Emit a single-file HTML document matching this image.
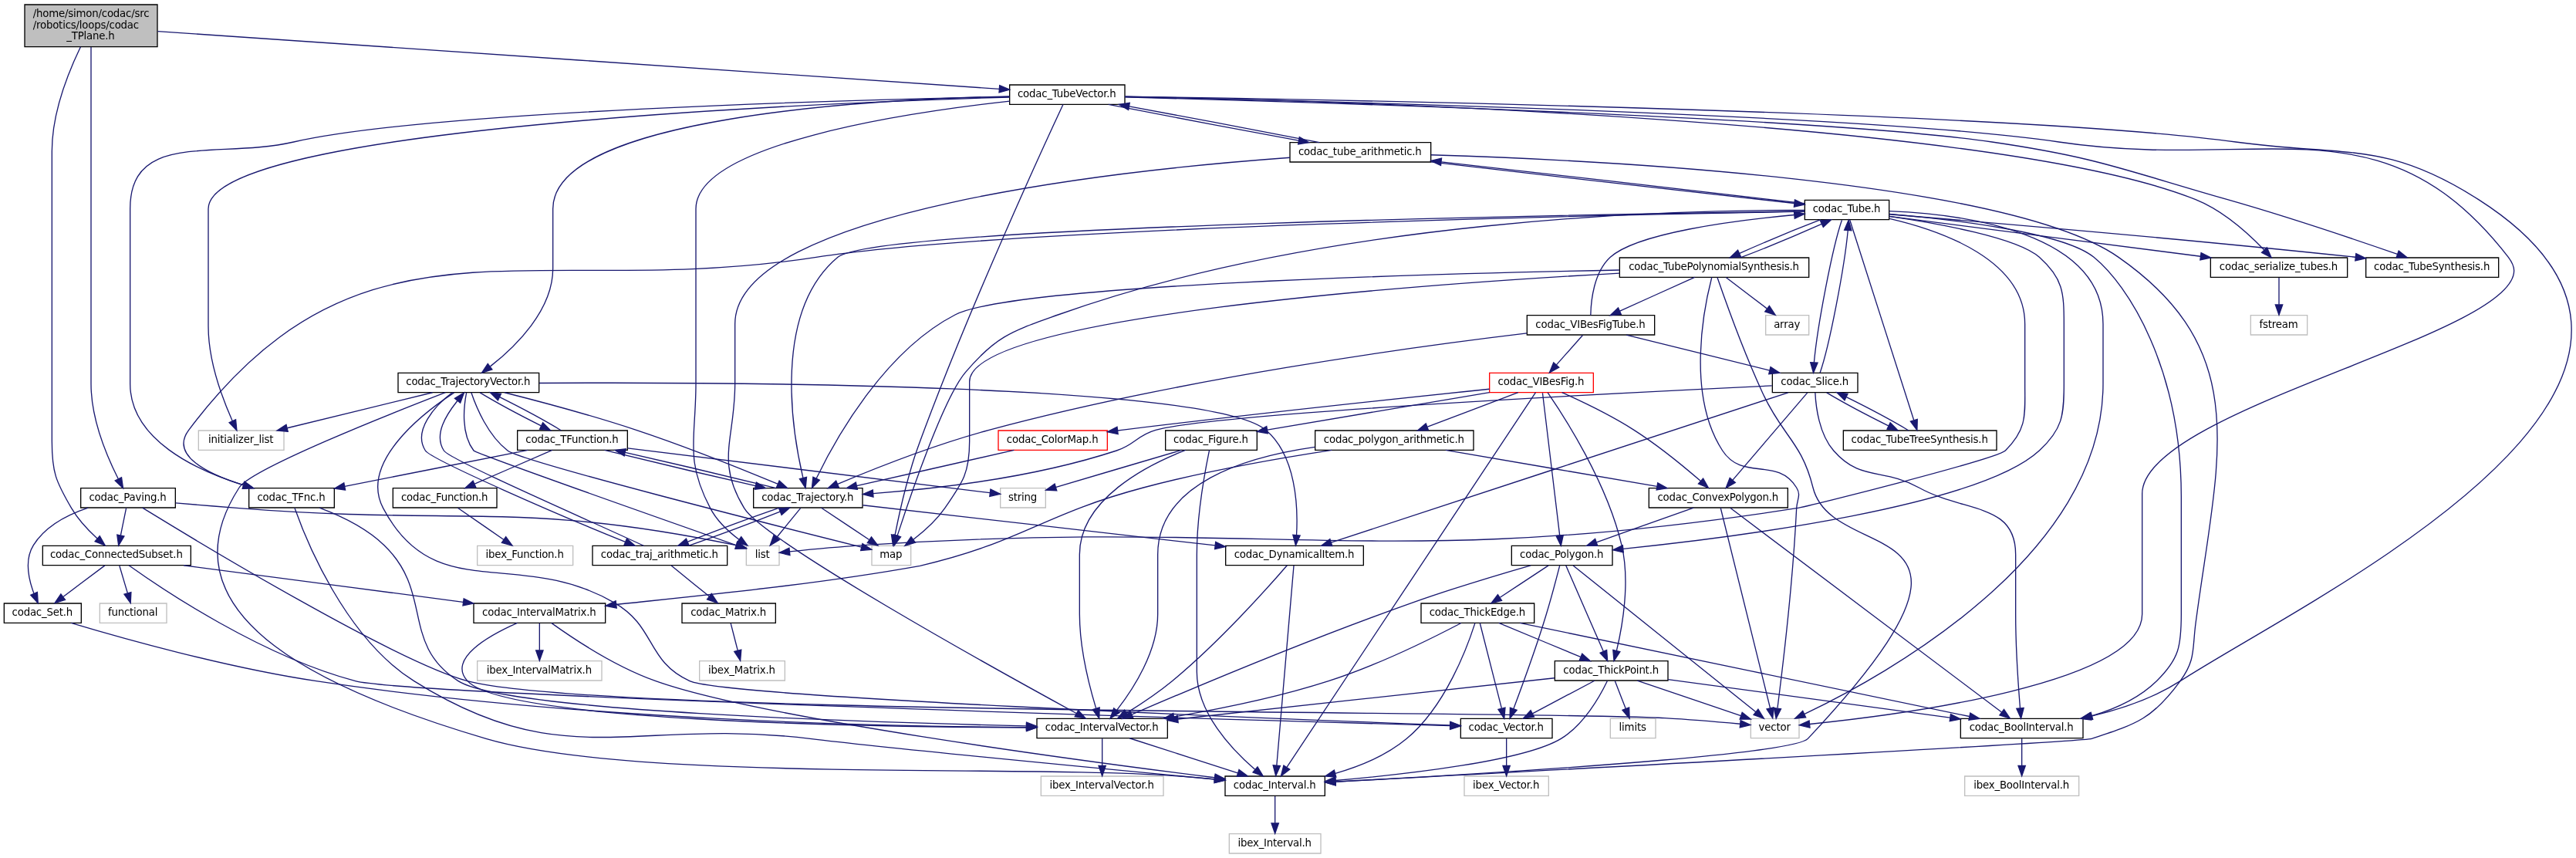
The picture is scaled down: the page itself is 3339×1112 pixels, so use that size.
<!DOCTYPE html>
<html><head><meta charset="utf-8"><title>codac_TPlane.h include graph</title>
<style>
html,body{margin:0;padding:0;background:#fff;}
body{width:3339px;height:1112px;overflow:hidden;}
svg{display:block;will-change:transform;}
svg text{font-family:"DejaVu Sans","Liberation Sans",sans-serif;font-size:10px;letter-spacing:-0.15px;}
</style></head><body>
<svg width="3339" height="1112" viewBox="0 0 2504.25 834.00">
<g id="graph0" class="graph" transform="scale(1 1) rotate(0) translate(4 830)">
<polygon fill="white" stroke="none" points="-4,4 -4,-830 2500.48,-830 2500.48,4 -4,4"/>
<g id="node1" class="node">
<polygon fill="#bfbfbf" stroke="black" points="20,-784.5 20,-825.5 149,-825.5 149,-784.5 20,-784.5"/>
<text text-anchor="start" x="28" y="-813.5" >/home/simon/codac/src</text>
<text text-anchor="start" x="28" y="-802.5" >/robotics/loops/codac</text>
<text text-anchor="middle" x="84.1" y="-791.5" >_TPlane.h</text>
</g>
<g id="node2" class="node">
<polygon fill="white" stroke="black" points="74.5,-336.5 74.5,-355.5 166.5,-355.5 166.5,-336.5 74.5,-336.5"/>
<text text-anchor="middle" x="120.1" y="-343.5" >codac_Paving.h</text>
</g>
<g id="edge1" class="edge">
<path fill="none" stroke="midnightblue" d="M84.5,-784.3C84.5,-760.35 84.5,-718.71 84.5,-683 84.5,-683 84.5,-683 84.5,-457 84.5,-422.98 100.24,-385.85 110.91,-364.6"/>
<polygon fill="midnightblue" stroke="midnightblue" points="114.12,-366.01 115.64,-355.53 107.91,-362.77 114.12,-366.01"/>
</g>
<g id="node5" class="node">
<polygon fill="white" stroke="black" points="37.5,-280.5 37.5,-299.5 181.5,-299.5 181.5,-280.5 37.5,-280.5"/>
<text text-anchor="middle" x="109.1" y="-287.5" >codac_ConnectedSubset.h</text>
</g>
<g id="edge18" class="edge">
<path fill="none" stroke="midnightblue" d="M74.32,-784.47C63.06,-761.02 46.5,-720.21 46.5,-683 46.5,-683 46.5,-683 46.5,-401 46.5,-370.9 50.3,-361.98 65.5,-336 72,-324.88 81.85,-314.46 90.58,-306.45"/>
<polygon fill="midnightblue" stroke="midnightblue" points="92.93,-309.04 98.16,-299.82 88.33,-303.77 92.93,-309.04"/>
</g>
<g id="node16" class="node">
<polygon fill="white" stroke="black" points="977.5,-728.5 977.5,-747.5 1089.5,-747.5 1089.5,-728.5 977.5,-728.5"/>
<text text-anchor="middle" x="1033.1" y="-735.5" >codac_TubeVector.h</text>
</g>
<g id="edge19" class="edge">
<path fill="none" stroke="midnightblue" d="M149.36,-799.56C322.29,-787.71 793.12,-755.46 967.44,-743.52"/>
<polygon fill="midnightblue" stroke="midnightblue" points="967.76,-747.01 977.5,-742.84 967.28,-740.03 967.76,-747.01"/>
</g>
<g id="node3" class="node">
<polygon fill="white" stroke="#bfbfbf" points="721.5,-280.5 721.5,-299.5 753.5,-299.5 753.5,-280.5 721.5,-280.5"/>
<text text-anchor="middle" x="737.1" y="-287.5" >list</text>
</g>
<g id="edge2" class="edge">
<path fill="none" stroke="midnightblue" d="M166.74,-341.06C185.86,-339.45 208.24,-337.6 228.5,-336 443.09,-319.06 500.69,-343.57 711.5,-300 711.6,-299.98 711.7,-299.96 711.81,-299.94"/>
<polygon fill="midnightblue" stroke="midnightblue" points="712.74,-303.31 721.45,-297.28 710.88,-296.56 712.74,-303.31"/>
</g>
<g id="node4" class="node">
<polygon fill="white" stroke="#bfbfbf" points="1698,-112.5 1698,-131.5 1745,-131.5 1745,-112.5 1698,-112.5"/>
<text text-anchor="middle" x="1721.1" y="-119.5" >vector</text>
</g>
<g id="edge3" class="edge">
<path fill="none" stroke="midnightblue" d="M134.51,-336.36C188.24,-303.39 381.58,-186.45 450.5,-168 575.49,-134.53 1485.32,-139.43 1614.5,-132 1639.02,-130.59 1666.64,-128.25 1687.68,-126.31"/>
<polygon fill="midnightblue" stroke="midnightblue" points="1688.1,-129.78 1697.73,-125.36 1687.44,-122.81 1688.1,-129.78"/>
</g>
<g id="edge4" class="edge">
<path fill="none" stroke="midnightblue" d="M118.68,-336.08C117.23,-328.93 115.13,-318.64 113.31,-309.69"/>
<polygon fill="midnightblue" stroke="midnightblue" points="116.71,-308.85 111.28,-299.75 109.85,-310.25 116.71,-308.85"/>
</g>
<g id="node7" class="node">
<polygon fill="white" stroke="black" points="0,-224.5 0,-243.5 75,-243.5 75,-224.5 0,-224.5"/>
<text text-anchor="middle" x="37.1" y="-231.5" >codac_Set.h</text>
</g>
<g id="edge17" class="edge">
<path fill="none" stroke="midnightblue" d="M81.65,-336.36C62.12,-329.85 40.17,-318.7 28.5,-300 19.75,-285.98 23.8,-266.99 28.96,-253.15"/>
<polygon fill="midnightblue" stroke="midnightblue" points="32.27,-254.32 32.93,-243.74 25.82,-251.6 32.27,-254.32"/>
</g>
<g id="node6" class="node">
<polygon fill="white" stroke="#bfbfbf" points="93,-224.5 93,-243.5 158,-243.5 158,-224.5 93,-224.5"/>
<text text-anchor="middle" x="125.1" y="-231.5" >functional</text>
</g>
<g id="edge5" class="edge">
<path fill="none" stroke="midnightblue" d="M112.14,-280.08C114.29,-272.85 117.38,-262.41 120.05,-253.4"/>
<polygon fill="midnightblue" stroke="midnightblue" points="123.42,-254.33 122.91,-243.75 116.71,-252.34 123.42,-254.33"/>
</g>
<g id="edge6" class="edge">
<path fill="none" stroke="midnightblue" d="M97.93,-280.32C87.08,-272.18 70.62,-259.84 57.62,-250.09"/>
<polygon fill="midnightblue" stroke="midnightblue" points="59.38,-247.03 49.28,-243.83 55.18,-252.63 59.38,-247.03"/>
</g>
<g id="node12" class="node">
<polygon fill="white" stroke="black" points="1416,-112.5 1416,-131.5 1505,-131.5 1505,-112.5 1416,-112.5"/>
<text text-anchor="middle" x="1460.1" y="-119.5" >codac_Vector.h</text>
</g>
<g id="edge11" class="edge">
<path fill="none" stroke="midnightblue" d="M121.28,-280.4C154.11,-257 250.2,-192.33 341.5,-168 393.34,-154.18 1187.9,-130.73 1405.67,-124.54"/>
<polygon fill="midnightblue" stroke="midnightblue" points="1406,-128.03 1415.9,-124.25 1405.81,-121.03 1406,-128.03"/>
</g>
<g id="node14" class="node">
<polygon fill="white" stroke="black" points="456.5,-224.5 456.5,-243.5 584.5,-243.5 584.5,-224.5 456.5,-224.5"/>
<text text-anchor="middle" x="520.1" y="-231.5" >codac_IntervalMatrix.h</text>
</g>
<g id="edge13" class="edge">
<path fill="none" stroke="midnightblue" d="M174.62,-280.44C248.49,-270.74 368.72,-254.94 446.19,-244.76"/>
<polygon fill="midnightblue" stroke="midnightblue" points="446.9,-248.2 456.36,-243.43 445.99,-241.26 446.9,-248.2"/>
</g>
<g id="node8" class="node">
<polygon fill="white" stroke="black" points="1004,-112.5 1004,-131.5 1131,-131.5 1131,-112.5 1004,-112.5"/>
<text text-anchor="middle" x="1067.1" y="-119.5" >codac_IntervalVector.h</text>
</g>
<g id="edge7" class="edge">
<path fill="none" stroke="midnightblue" d="M65.13,-224.49C113.09,-210.11 215.12,-181.29 303.5,-168 554.65,-130.24 856.68,-123.78 993.6,-122.93"/>
<polygon fill="midnightblue" stroke="midnightblue" points="993.98,-126.43 1003.96,-122.87 993.94,-119.43 993.98,-126.43"/>
</g>
<g id="node9" class="node">
<polygon fill="white" stroke="#bfbfbf" points="1008,-56.5 1008,-75.5 1127,-75.5 1127,-56.5 1008,-56.5"/>
<text text-anchor="middle" x="1067.1" y="-63.5" >ibex_IntervalVector.h</text>
</g>
<g id="edge8" class="edge">
<path fill="none" stroke="midnightblue" d="M1067.5,-112.08C1067.5,-105.01 1067.5,-94.86 1067.5,-85.99"/>
<polygon fill="midnightblue" stroke="midnightblue" points="1071,-85.75 1067.5,-75.75 1064,-85.75 1071,-85.75"/>
</g>
<g id="node10" class="node">
<polygon fill="white" stroke="black" points="1187,-56.5 1187,-75.5 1284,-75.5 1284,-56.5 1187,-56.5"/>
<text text-anchor="middle" x="1235.1" y="-63.5" >codac_Interval.h</text>
</g>
<g id="edge9" class="edge">
<path fill="none" stroke="midnightblue" d="M1094.12,-112.44C1122.51,-103.32 1167.64,-88.81 1199.25,-78.65"/>
<polygon fill="midnightblue" stroke="midnightblue" points="1200.56,-81.91 1209,-75.52 1198.41,-75.24 1200.56,-81.91"/>
</g>
<g id="node11" class="node">
<polygon fill="white" stroke="#bfbfbf" points="1191,-0.5 1191,-19.5 1280,-19.5 1280,-0.5 1191,-0.5"/>
<text text-anchor="middle" x="1235.1" y="-7.5" >ibex_Interval.h</text>
</g>
<g id="edge10" class="edge">
<path fill="none" stroke="midnightblue" d="M1235.5,-56.08C1235.5,-49.01 1235.5,-38.86 1235.5,-29.99"/>
<polygon fill="midnightblue" stroke="midnightblue" points="1239,-29.75 1235.5,-19.75 1232,-29.75 1239,-29.75"/>
</g>
<g id="node13" class="node">
<polygon fill="white" stroke="#bfbfbf" points="1419.5,-56.5 1419.5,-75.5 1501.5,-75.5 1501.5,-56.5 1419.5,-56.5"/>
<text text-anchor="middle" x="1460.1" y="-63.5" >ibex_Vector.h</text>
</g>
<g id="edge12" class="edge">
<path fill="none" stroke="midnightblue" d="M1460.5,-112.08C1460.5,-105.01 1460.5,-94.86 1460.5,-85.99"/>
<polygon fill="midnightblue" stroke="midnightblue" points="1464,-85.75 1460.5,-75.75 1457,-85.75 1464,-85.75"/>
</g>
<g id="edge16" class="edge">
<path fill="none" stroke="midnightblue" d="M498.91,-224.39C471.63,-212.34 430.51,-189.5 450.5,-168 486.78,-128.98 837.55,-123.41 993.45,-122.88"/>
<polygon fill="midnightblue" stroke="midnightblue" points="993.89,-126.38 1003.89,-122.85 993.88,-119.38 993.89,-126.38"/>
</g>
<g id="edge15" class="edge">
<path fill="none" stroke="midnightblue" d="M532.02,-224.49C551.73,-210.38 593.66,-182.28 633.5,-168 733.42,-132.19 1045.59,-90.58 1176.64,-74.17"/>
<polygon fill="midnightblue" stroke="midnightblue" points="1177.39,-77.61 1186.88,-72.9 1176.53,-70.66 1177.39,-77.61"/>
</g>
<g id="node15" class="node">
<polygon fill="white" stroke="#bfbfbf" points="460,-168.5 460,-187.5 581,-187.5 581,-168.5 460,-168.5"/>
<text text-anchor="middle" x="520.1" y="-175.5" >ibex_IntervalMatrix.h</text>
</g>
<g id="edge14" class="edge">
<path fill="none" stroke="midnightblue" d="M520.5,-224.08C520.5,-217.01 520.5,-206.86 520.5,-197.99"/>
<polygon fill="midnightblue" stroke="midnightblue" points="524,-197.75 520.5,-187.75 517,-197.75 524,-197.75"/>
</g>
<g id="edge52" class="edge">
<path fill="none" stroke="midnightblue" d="M977.49,-731.65C876.09,-720.4 672.5,-689.98 672.5,-627 672.5,-627 672.5,-627 672.5,-457 672.5,-402.86 661.43,-383.98 686.5,-336 692.91,-323.74 704.14,-313.27 714.43,-305.53"/>
<polygon fill="midnightblue" stroke="midnightblue" points="716.57,-308.3 722.73,-299.68 712.54,-302.58 716.57,-308.3"/>
</g>
<g id="edge20" class="edge">
<path fill="none" stroke="midnightblue" d="M1089.76,-735.88C1268.28,-732.1 1820.62,-718.51 1997.5,-692 2195.78,-662.28 2311.58,-738.4 2434.5,-580 2436.9,-576.8 2440,-572 2440,-567 2440,-503.6 2078.5,-431.4 2078.5,-350 2078.5,-350 2078.5,-350 2078.5,-233 2078.5,-165.77 1844.36,-135.29 1755.31,-126.13"/>
<polygon fill="midnightblue" stroke="midnightblue" points="1755.5,-122.63 1745.2,-125.11 1754.8,-129.59 1755.5,-122.63"/>
</g>
<g id="node17" class="node">
<polygon fill="white" stroke="#bfbfbf" points="189,-392.5 189,-411.5 272,-411.5 272,-392.5 189,-392.5"/>
<text text-anchor="middle" x="230.1" y="-399.5" >initializer_list</text>
</g>
<g id="edge21" class="edge">
<path fill="none" stroke="midnightblue" d="M977.42,-735.53C790.2,-729.87 198.5,-705.77 198.5,-627 198.5,-627 198.5,-627 198.5,-513 198.5,-479.33 212.49,-442.08 221.97,-420.72"/>
<polygon fill="midnightblue" stroke="midnightblue" points="225.17,-422.14 226.18,-411.59 218.82,-419.21 225.17,-422.14"/>
</g>
<g id="node18" class="node">
<polygon fill="white" stroke="black" points="238,-336.5 238,-355.5 321,-355.5 321,-336.5 238,-336.5"/>
<text text-anchor="middle" x="279.1" y="-343.5" >codac_TFnc.h</text>
</g>
<g id="edge22" class="edge">
<path fill="none" stroke="midnightblue" d="M977.27,-736.02C826.18,-732.99 413.89,-722.15 281.5,-692 207.06,-675.05 122.5,-703.34 122.5,-627 122.5,-627 122.5,-627 122.5,-457 122.5,-402.74 186.18,-372.98 232.43,-358.52"/>
<polygon fill="midnightblue" stroke="midnightblue" points="233.71,-361.79 242.29,-355.58 231.71,-355.08 233.71,-361.79"/>
</g>
<g id="node19" class="node">
<polygon fill="white" stroke="black" points="383,-448.5 383,-467.5 520,-467.5 520,-448.5 383,-448.5"/>
<text text-anchor="middle" x="451.1" y="-455.5" >codac_TrajectoryVector.h</text>
</g>
<g id="edge25" class="edge">
<path fill="none" stroke="midnightblue" d="M977.12,-736.39C846.35,-733.44 533.5,-716.99 533.5,-627 533.5,-627 533.5,-627 533.5,-569 533.5,-528.27 496.91,-492.87 472.62,-473.86"/>
<polygon fill="midnightblue" stroke="midnightblue" points="474.41,-470.82 464.31,-467.61 470.2,-476.42 474.41,-470.82"/>
</g>
<g id="node23" class="node">
<polygon fill="white" stroke="#bfbfbf" points="843.5,-280.5 843.5,-299.5 881.5,-299.5 881.5,-280.5 843.5,-280.5"/>
<text text-anchor="middle" x="862.1" y="-287.5" >map</text>
</g>
<g id="edge53" class="edge">
<path fill="none" stroke="midnightblue" d="M1029.44,-728.33C1012.01,-690.98 942.29,-539.91 894.5,-412 885.35,-387.51 883.26,-381.25 876.5,-356 872.39,-340.65 868.65,-323.01 866.07,-309.98"/>
<polygon fill="midnightblue" stroke="midnightblue" points="869.46,-309.05 864.13,-299.9 862.59,-310.38 869.46,-309.05"/>
</g>
<g id="node30" class="node">
<polygon fill="white" stroke="black" points="1250,-672.5 1250,-691.5 1387,-691.5 1387,-672.5 1250,-672.5"/>
<text text-anchor="middle" x="1318.1" y="-679.5" >codac_tube_arithmetic.h</text>
</g>
<g id="edge54" class="edge">
<path fill="none" stroke="midnightblue" d="M1073.57,-728.44C1121.72,-718.92 1202.76,-703.55 1258.39,-693.36"/>
<polygon fill="midnightblue" stroke="midnightblue" points="1259.26,-696.76 1268.47,-691.52 1258.01,-689.87 1259.26,-696.76"/>
</g>
<g id="node37" class="node">
<polygon fill="white" stroke="black" points="1902,-112.5 1902,-131.5 2021,-131.5 2021,-112.5 1902,-112.5"/>
<text text-anchor="middle" x="1961.1" y="-119.5" >codac_BoolInterval.h</text>
</g>
<g id="edge127" class="edge">
<path fill="none" stroke="midnightblue" d="M1089.79,-736.21C1288.62,-733.2 1957.33,-721.1 2169.5,-692 2276.3,-677.35 2314.68,-694.07 2405.5,-636 2683.93,-457.97 2241.82,-249.81 2115.5,-168 2089.46,-151.14 2056.93,-140.43 2028.49,-133.71"/>
<polygon fill="midnightblue" stroke="midnightblue" points="2029.14,-130.27 2018.62,-131.5 2027.61,-137.1 2029.14,-130.27"/>
</g>
<g id="node41" class="node">
<polygon fill="white" stroke="black" points="2145,-560.5 2145,-579.5 2278,-579.5 2278,-560.5 2145,-560.5"/>
<text text-anchor="middle" x="2211.1" y="-567.5" >codac_serialize_tubes.h</text>
</g>
<g id="edge126" class="edge">
<path fill="none" stroke="midnightblue" d="M1089.74,-736.08C1285.92,-732.19 1938.43,-713.61 2130.5,-636 2157.26,-625.19 2182.23,-602.48 2197.18,-586.98"/>
<polygon fill="midnightblue" stroke="midnightblue" points="2199.77,-589.33 2204.04,-579.63 2194.66,-584.55 2199.77,-589.33"/>
</g>
<g id="node50" class="node">
<polygon fill="white" stroke="black" points="2296,-560.5 2296,-579.5 2425,-579.5 2425,-560.5 2296,-560.5"/>
<text text-anchor="middle" x="2360.1" y="-567.5" >codac_TubeSynthesis.h</text>
</g>
<g id="edge125" class="edge">
<path fill="none" stroke="midnightblue" d="M1089.52,-735.59C1259.63,-731.08 1768.59,-715.92 1932.5,-692 2036.18,-676.87 2060.74,-664.73 2161.5,-636 2220.02,-619.31 2287.11,-596.65 2326.53,-582.97"/>
<polygon fill="midnightblue" stroke="midnightblue" points="2327.88,-586.2 2336.18,-579.61 2325.58,-579.59 2327.88,-586.2"/>
</g>
<g id="edge24" class="edge">
<path fill="none" stroke="midnightblue" d="M306.53,-336.42C325.91,-329.19 351.65,-317.22 369.5,-300 417.59,-253.6 385.3,-204.15 441.5,-168 486.93,-138.77 837.66,-127.82 993.4,-124.37"/>
<polygon fill="midnightblue" stroke="midnightblue" points="993.9,-127.86 1003.82,-124.15 993.74,-120.86 993.9,-127.86"/>
</g>
<g id="edge23" class="edge">
<path fill="none" stroke="midnightblue" d="M282.49,-336.1C292.98,-306.43 331.12,-210.4 398.5,-168 544.85,-75.91 611.87,-133.01 783.5,-112 858.12,-102.86 1072.29,-82.38 1176.76,-72.51"/>
<polygon fill="midnightblue" stroke="midnightblue" points="1177.2,-75.99 1186.83,-71.56 1176.54,-69.02 1177.2,-75.99"/>
</g>
<g id="edge50" class="edge">
<path fill="none" stroke="midnightblue" d="M449.48,-448.4C446.83,-434.91 443.91,-408.59 456.5,-392 458.54,-389.32 642.47,-324.42 711.61,-300.1"/>
<polygon fill="midnightblue" stroke="midnightblue" points="713.04,-303.3 721.32,-296.69 710.72,-296.7 713.04,-303.3"/>
</g>
<g id="edge48" class="edge">
<path fill="none" stroke="midnightblue" d="M429.09,-448.45C374.88,-427.54 240.25,-374.22 228.5,-356 146.06,-228.16 322.59,-154.99 468.5,-112 610.89,-70.05 987.44,-86.65 1135.5,-76 1148.87,-75.04 1163.23,-73.84 1176.78,-72.64"/>
<polygon fill="midnightblue" stroke="midnightblue" points="1177.31,-76.11 1186.95,-71.72 1176.68,-69.13 1177.31,-76.11"/>
</g>
<g id="edge26" class="edge">
<path fill="none" stroke="midnightblue" d="M437.47,-448.34C408.11,-429.08 344.83,-380.83 368.5,-336 418.95,-240.46 500.07,-298.25 593.5,-244 634,-220.48 623.95,-187.57 666.5,-168 700.02,-152.59 1231.15,-131.54 1405.52,-125.01"/>
<polygon fill="midnightblue" stroke="midnightblue" points="1405.89,-128.5 1415.75,-124.63 1405.63,-121.51 1405.89,-128.5"/>
</g>
<g id="edge49" class="edge">
<path fill="none" stroke="midnightblue" d="M416.48,-448.44C378.25,-439.1 316.93,-424.12 275.24,-413.93"/>
<polygon fill="midnightblue" stroke="midnightblue" points="275.9,-410.49 265.35,-411.52 274.24,-417.29 275.9,-410.49"/>
</g>
<g id="node20" class="node">
<polygon fill="white" stroke="black" points="499,-392.5 499,-411.5 606,-411.5 606,-392.5 499,-392.5"/>
<text text-anchor="middle" x="552.1" y="-399.5" >codac_TFunction.h</text>
</g>
<g id="edge27" class="edge">
<path fill="none" stroke="midnightblue" d="M462.61,-448.32C477,-439.62 502,-426.12 522.09,-416.11"/>
<polygon fill="midnightblue" stroke="midnightblue" points="523.76,-419.19 531.2,-411.65 520.68,-412.91 523.76,-419.19"/>
</g>
<g id="node21" class="node">
<polygon fill="white" stroke="black" points="728.5,-336.5 728.5,-355.5 834.5,-355.5 834.5,-336.5 728.5,-336.5"/>
<text text-anchor="middle" x="781.1" y="-343.5" >codac_Trajectory.h</text>
</g>
<g id="edge45" class="edge">
<path fill="none" stroke="midnightblue" d="M486.47,-448.45C519.69,-440.06 570.89,-426.46 614.5,-412 663.34,-395.8 718.78,-373.4 751.9,-359.58"/>
<polygon fill="midnightblue" stroke="midnightblue" points="753.57,-362.67 761.43,-355.58 750.86,-356.22 753.57,-362.67"/>
</g>
<g id="node22" class="node">
<polygon fill="white" stroke="black" points="1187.5,-280.5 1187.5,-299.5 1321.5,-299.5 1321.5,-280.5 1187.5,-280.5"/>
<text text-anchor="middle" x="1254.1" y="-287.5" >codac_DynamicalItem.h</text>
</g>
<g id="edge46" class="edge">
<path fill="none" stroke="midnightblue" d="M520.28,-457.63C699.95,-458.63 1173.22,-456.94 1226.5,-412 1256.21,-386.94 1257.96,-337.18 1256.4,-309.93"/>
<polygon fill="midnightblue" stroke="midnightblue" points="1259.87,-309.46 1255.6,-299.77 1252.9,-310.01 1259.87,-309.46"/>
</g>
<g id="edge51" class="edge">
<path fill="none" stroke="midnightblue" d="M454.14,-448.39C458.88,-434.39 470.19,-406.77 489.5,-392 503.57,-381.24 748.28,-319.5 833.51,-298.21"/>
<polygon fill="midnightblue" stroke="midnightblue" points="834.46,-301.58 843.32,-295.77 832.77,-294.79 834.46,-301.58"/>
</g>
<g id="node24" class="node">
<polygon fill="white" stroke="black" points="572,-280.5 572,-299.5 703,-299.5 703,-280.5 572,-280.5"/>
<text text-anchor="middle" x="637.1" y="-287.5" >codac_traj_arithmetic.h</text>
</g>
<g id="edge47" class="edge">
<path fill="none" stroke="midnightblue" d="M435.66,-448.5C418.76,-435.8 397.15,-411.29 409.5,-392 415.06,-383.32 541.7,-328.21 603.92,-303.25"/>
<polygon fill="midnightblue" stroke="midnightblue" points="605.32,-306.46 613.32,-299.52 602.73,-299.96 605.32,-306.46"/>
</g>
<g id="edge44" class="edge">
<path fill="none" stroke="midnightblue" d="M509.24,-392.44C460.9,-382.88 382.66,-367.4 331.14,-357.21"/>
<polygon fill="midnightblue" stroke="midnightblue" points="331.7,-353.76 321.21,-355.25 330.34,-360.62 331.7,-353.76"/>
</g>
<g id="edge43" class="edge">
<path fill="none" stroke="midnightblue" d="M541.65,-411.52C527.27,-420.23 502,-433.88 481.76,-443.96"/>
<polygon fill="midnightblue" stroke="midnightblue" points="480.04,-440.91 472.59,-448.44 483.11,-447.2 480.04,-440.91"/>
</g>
<g id="edge28" class="edge">
<path fill="none" stroke="midnightblue" d="M583.7,-392.44C621.5,-383.04 685.45,-367.93 730.44,-357.74"/>
<polygon fill="midnightblue" stroke="midnightblue" points="731.32,-361.13 740.3,-355.52 729.78,-354.3 731.32,-361.13"/>
</g>
<g id="node27" class="node">
<polygon fill="white" stroke="#bfbfbf" points="968.5,-336.5 968.5,-355.5 1012.5,-355.5 1012.5,-336.5 968.5,-336.5"/>
<text text-anchor="middle" x="990.1" y="-343.5" >string</text>
</g>
<g id="edge40" class="edge">
<path fill="none" stroke="midnightblue" d="M606.21,-394.38C698.31,-383.02 883.65,-360.17 958.28,-350.97"/>
<polygon fill="midnightblue" stroke="midnightblue" points="958.96,-354.41 968.46,-349.72 958.11,-347.47 958.96,-354.41"/>
</g>
<g id="node28" class="node">
<polygon fill="white" stroke="black" points="378,-336.5 378,-355.5 479,-355.5 479,-336.5 378,-336.5"/>
<text text-anchor="middle" x="428.1" y="-343.5" >codac_Function.h</text>
</g>
<g id="edge41" class="edge">
<path fill="none" stroke="midnightblue" d="M532.85,-392.44C512.54,-383.6 480.6,-369.69 457.4,-359.59"/>
<polygon fill="midnightblue" stroke="midnightblue" points="458.62,-356.3 448.06,-355.52 455.83,-362.72 458.62,-356.3"/>
</g>
<g id="edge39" class="edge">
<path fill="none" stroke="midnightblue" d="M774.23,-336.08C767.96,-328.38 758.71,-317.03 751.07,-307.65"/>
<polygon fill="midnightblue" stroke="midnightblue" points="753.66,-305.29 744.63,-299.75 748.23,-309.71 753.66,-305.29"/>
</g>
<g id="edge29" class="edge">
<path fill="none" stroke="midnightblue" d="M750.46,-355.52C712.74,-364.9 648.79,-380.01 603.75,-390.22"/>
<polygon fill="midnightblue" stroke="midnightblue" points="602.86,-386.83 593.87,-392.44 604.4,-393.66 602.86,-386.83"/>
</g>
<g id="edge30" class="edge">
<path fill="none" stroke="midnightblue" d="M834.84,-338.91C918.49,-329.36 1080.93,-310.82 1177.33,-299.81"/>
<polygon fill="midnightblue" stroke="midnightblue" points="1177.77,-303.28 1187.31,-298.67 1176.98,-296.33 1177.77,-303.28"/>
</g>
<g id="edge33" class="edge">
<path fill="none" stroke="midnightblue" d="M794.51,-336.32C807.03,-327.98 826.18,-315.21 840.97,-305.35"/>
<polygon fill="midnightblue" stroke="midnightblue" points="843.14,-308.11 849.52,-299.65 839.26,-302.29 843.14,-308.11"/>
</g>
<g id="edge34" class="edge">
<path fill="none" stroke="midnightblue" d="M753.59,-336.44C727.83,-327.52 690.06,-313.44 664.57,-303.32"/>
<polygon fill="midnightblue" stroke="midnightblue" points="665.71,-300 655.13,-299.52 663.1,-306.5 665.71,-300"/>
</g>
<g id="edge31" class="edge">
<path fill="none" stroke="midnightblue" d="M1247.25,-280.48C1229.44,-259.83 1181.66,-206.03 1135.5,-168 1121.56,-156.52 1104.63,-145.3 1091.15,-136.94"/>
<polygon fill="midnightblue" stroke="midnightblue" points="1092.81,-133.86 1082.45,-131.64 1089.17,-139.83 1092.81,-133.86"/>
</g>
<g id="edge32" class="edge">
<path fill="none" stroke="midnightblue" d="M1253.76,-280.3C1250.96,-247.63 1241.05,-131.87 1237.12,-85.96"/>
<polygon fill="midnightblue" stroke="midnightblue" points="1240.6,-85.55 1236.26,-75.88 1233.63,-86.15 1240.6,-85.55"/>
</g>
<g id="edge36" class="edge">
<path fill="none" stroke="midnightblue" d="M621.73,-299.52C573.6,-322.18 433.35,-382.85 427.5,-392 417.43,-407.74 429.95,-426.95 440.63,-440.38"/>
<polygon fill="midnightblue" stroke="midnightblue" points="438.07,-442.78 447.13,-448.29 443.48,-438.34 438.07,-442.78"/>
</g>
<g id="edge35" class="edge">
<path fill="none" stroke="midnightblue" d="M665.29,-299.52C691.02,-308.43 728.79,-322.5 754.31,-332.64"/>
<polygon fill="midnightblue" stroke="midnightblue" points="753.19,-335.96 763.77,-336.44 755.8,-329.46 753.19,-335.96"/>
</g>
<g id="node25" class="node">
<polygon fill="white" stroke="black" points="659,-224.5 659,-243.5 750,-243.5 750,-224.5 659,-224.5"/>
<text text-anchor="middle" x="704.1" y="-231.5" >codac_Matrix.h</text>
</g>
<g id="edge37" class="edge">
<path fill="none" stroke="midnightblue" d="M648.59,-280.32C658.6,-272.2 673.5,-259.9 685.6,-250.2"/>
<polygon fill="midnightblue" stroke="midnightblue" points="683.45,-247.44 693.8,-243.8 687.75,-252.96 683.45,-247.44"/>
</g>
<g id="node26" class="node">
<polygon fill="white" stroke="#bfbfbf" points="676,-168.5 676,-187.5 759,-187.5 759,-168.5 676,-168.5"/>
<text text-anchor="middle" x="717.1" y="-175.5" >ibex_Matrix.h</text>
</g>
<g id="edge38" class="edge">
<path fill="none" stroke="midnightblue" d="M706.4,-224.08C708.2,-216.9 710.9,-206.6 713.2,-197.6"/>
<polygon fill="midnightblue" stroke="midnightblue" points="716.59,-198.47 715.72,-187.75 709.81,-196.73 716.59,-198.47"/>
</g>
<g id="node29" class="node">
<polygon fill="white" stroke="#bfbfbf" points="460,-280.5 460,-299.5 553,-299.5 553,-280.5 460,-280.5"/>
<text text-anchor="middle" x="506.1" y="-287.5" >ibex_Function.h</text>
</g>
<g id="edge42" class="edge">
<path fill="none" stroke="midnightblue" d="M441.03,-336.32C453.09,-327.98 471.53,-315.21 485.77,-305.35"/>
<polygon fill="midnightblue" stroke="midnightblue" points="487.77,-308.22 494,-299.65 483.78,-302.47 487.77,-308.22"/>
</g>
<g id="edge124" class="edge">
<path fill="none" stroke="midnightblue" d="M1249.94,-676.8C1090.93,-665.17 710.5,-625.79 710.5,-515 710.5,-515 710.5,-515 710.5,-457 710.5,-403.07 691.41,-382.03 719.5,-336 739.09,-303.89 965.76,-178.42 1042.38,-136.63"/>
<polygon fill="midnightblue" stroke="midnightblue" points="1044.25,-139.59 1051.36,-131.74 1040.9,-133.45 1044.25,-139.59"/>
</g>
<g id="edge55" class="edge">
<path fill="none" stroke="midnightblue" d="M1387.26,-679.42C1549.04,-674.49 1948.2,-654.87 2055.5,-580 2188.11,-487.48 2151.6,-384.31 2130.5,-224 2127.14,-198.45 2130.63,-188.86 2115.5,-168 2088.71,-131.08 2072.84,-126.21 2029.5,-112 2020.77,-109.14 1476.95,-79.89 1294.46,-70.14"/>
<polygon fill="midnightblue" stroke="midnightblue" points="1294.42,-66.63 1284.25,-69.6 1294.05,-73.62 1294.42,-66.63"/>
</g>
<g id="edge123" class="edge">
<path fill="none" stroke="midnightblue" d="M1278.63,-691.52C1230.57,-701.02 1149.55,-716.4 1093.84,-726.6"/>
<polygon fill="midnightblue" stroke="midnightblue" points="1092.96,-723.2 1083.75,-728.44 1094.21,-730.09 1092.96,-723.2"/>
</g>
<g id="node31" class="node">
<polygon fill="white" stroke="black" points="1750.5,-616.5 1750.5,-635.5 1832.5,-635.5 1832.5,-616.5 1750.5,-616.5"/>
<text text-anchor="middle" x="1791.1" y="-623.5" >codac_Tube.h</text>
</g>
<g id="edge56" class="edge">
<path fill="none" stroke="midnightblue" d="M1387.09,-672.59C1483.02,-661.35 1654.89,-641.76 1740.4,-632.35"/>
<polygon fill="midnightblue" stroke="midnightblue" points="1740.83,-635.82 1750.39,-631.25 1740.07,-628.87 1740.83,-635.82"/>
</g>
<g id="edge121" class="edge">
<path fill="none" stroke="midnightblue" d="M1832.94,-617.54C1884.12,-605.66 1964.5,-577.11 1964.5,-515 1964.5,-515 1964.5,-515 1964.5,-457 1964.5,-426.9 1966.94,-413.12 1945.5,-392 1937.16,-383.79 1754.06,-337.8 1742.5,-336 1343.43,-273.89 1237.49,-326.67 834.5,-300 810.44,-298.41 783.08,-295.8 763.57,-293.8"/>
<polygon fill="midnightblue" stroke="midnightblue" points="763.92,-290.31 753.61,-292.76 763.2,-297.28 763.92,-290.31"/>
</g>
<g id="edge87" class="edge">
<path fill="none" stroke="midnightblue" d="M1832.62,-624.74C1903.34,-621.89 2040.5,-604.79 2040.5,-515 2040.5,-515 2040.5,-515 2040.5,-457 2040.5,-289.75 1828.74,-173.32 1750.28,-135.92"/>
<polygon fill="midnightblue" stroke="midnightblue" points="1751.51,-132.63 1740.97,-131.56 1748.54,-138.97 1751.51,-132.63"/>
</g>
<g id="edge88" class="edge">
<path fill="none" stroke="midnightblue" d="M1750.26,-624.35C1586.17,-621.56 979.32,-609.45 789.5,-580 511.62,-536.88 348.53,-636.73 179.5,-412 160.86,-387.22 198.23,-369.2 232.47,-358.5"/>
<polygon fill="midnightblue" stroke="midnightblue" points="233.86,-361.73 242.46,-355.54 231.88,-355.02 233.86,-361.73"/>
</g>
<g id="edge89" class="edge">
<path fill="none" stroke="midnightblue" d="M1750.46,-624.49C1569.11,-622.09 847.06,-610.61 810.5,-580 746.83,-526.68 766.13,-410.66 776.67,-365.5"/>
<polygon fill="midnightblue" stroke="midnightblue" points="780.11,-366.18 779.1,-355.63 773.31,-364.5 780.11,-366.18"/>
</g>
<g id="edge92" class="edge">
<path fill="none" stroke="midnightblue" d="M1750.16,-625.6C1632.76,-626.06 1288.78,-618.61 1024.5,-524 980.15,-508.12 964.86,-504.02 934.5,-468 913.15,-442.67 881.3,-349.16 868.32,-309.25"/>
<polygon fill="midnightblue" stroke="midnightblue" points="871.65,-308.16 865.25,-299.71 864.98,-310.31 871.65,-308.16"/>
</g>
<g id="edge122" class="edge">
<path fill="none" stroke="midnightblue" d="M1750.23,-632.19C1671.46,-641.54 1498.81,-661.28 1397.28,-672.58"/>
<polygon fill="midnightblue" stroke="midnightblue" points="1396.63,-669.13 1387.08,-673.72 1397.4,-676.09 1396.63,-669.13"/>
</g>
<g id="node32" class="node">
<polygon fill="white" stroke="black" points="1719,-448.5 1719,-467.5 1802,-467.5 1802,-448.5 1719,-448.5"/>
<text text-anchor="middle" x="1760.1" y="-455.5" >codac_Slice.h</text>
</g>
<g id="edge57" class="edge">
<path fill="none" stroke="midnightblue" d="M1786.57,-616.08C1777.48,-589.95 1762.75,-513.21 1759.52,-477.58"/>
<polygon fill="midnightblue" stroke="midnightblue" points="1763.01,-477.33 1758.9,-467.57 1756.02,-477.77 1763.01,-477.33"/>
</g>
<g id="node33" class="node">
<polygon fill="white" stroke="black" points="1788,-392.5 1788,-411.5 1937,-411.5 1937,-392.5 1788,-392.5"/>
<text text-anchor="middle" x="1862.1" y="-399.5" >codac_TubeTreeSynthesis.h</text>
</g>
<g id="edge85" class="edge">
<path fill="none" stroke="midnightblue" d="M1794.28,-616.3C1804.75,-583.56 1841.91,-467.38 1856.53,-421.67"/>
<polygon fill="midnightblue" stroke="midnightblue" points="1859.95,-422.47 1859.66,-411.88 1853.28,-420.34 1859.95,-422.47"/>
</g>
<g id="node35" class="node">
<polygon fill="white" stroke="black" points="1465.5,-280.5 1465.5,-299.5 1563.5,-299.5 1563.5,-280.5 1465.5,-280.5"/>
<text text-anchor="middle" x="1514.1" y="-287.5" >codac_Polygon.h</text>
</g>
<g id="edge119" class="edge">
<path fill="none" stroke="midnightblue" d="M1832.6,-619.68C1880.89,-612.67 1957.16,-598.97 1978.5,-580 2001.52,-559.54 2002.5,-545.8 2002.5,-515 2002.5,-515 2002.5,-515 2002.5,-457 2002.5,-426.2 2001.16,-412.85 1978.5,-392 1919.89,-338.07 1685.43,-308.01 1573.96,-296.51"/>
<polygon fill="midnightblue" stroke="midnightblue" points="1574.19,-293.02 1563.89,-295.49 1573.48,-299.98 1574.19,-293.02"/>
</g>
<g id="edge86" class="edge">
<path fill="none" stroke="midnightblue" d="M1832.57,-622C1892.9,-616.82 2001.58,-604.35 2031.5,-580 2064.28,-553.32 2116.5,-473.12 2116.5,-347 2116.5,-347 2116.5,-347 2116.5,-233 2116.5,-202.2 2114.52,-189.53 2092.5,-168 2075.5,-151.38 2052.09,-140.89 2029.76,-134.27"/>
<polygon fill="midnightblue" stroke="midnightblue" points="2030.51,-130.84 2019.94,-131.57 2028.66,-137.59 2030.51,-130.84"/>
</g>
<g id="edge90" class="edge">
<path fill="none" stroke="midnightblue" d="M1832.54,-619.72C1902.6,-610.72 2046.31,-592.24 2135.24,-580.81"/>
<polygon fill="midnightblue" stroke="midnightblue" points="2135.79,-584.26 2145.27,-579.52 2134.9,-577.32 2135.79,-584.26"/>
</g>
<g id="node43" class="node">
<polygon fill="white" stroke="black" points="1570.5,-560.5 1570.5,-579.5 1754.5,-579.5 1754.5,-560.5 1570.5,-560.5"/>
<text text-anchor="middle" x="1662.1" y="-567.5" >codac_TubePolynomialSynthesis.h</text>
</g>
<g id="edge93" class="edge">
<path fill="none" stroke="midnightblue" d="M1765.97,-616.44C1743,-607.64 1709.73,-593.81 1687.06,-583.72"/>
<polygon fill="midnightblue" stroke="midnightblue" points="1688.32,-580.45 1677.76,-579.52 1685.43,-586.83 1688.32,-580.45"/>
</g>
<g id="edge120" class="edge">
<path fill="none" stroke="midnightblue" d="M1832.61,-621.69C1915.89,-614.89 2110.71,-598.51 2285.77,-580.05"/>
<polygon fill="midnightblue" stroke="midnightblue" points="2286.36,-583.5 2295.94,-578.97 2285.63,-576.54 2286.36,-583.5"/>
</g>
<g id="edge58" class="edge">
<path fill="none" stroke="midnightblue" d="M1718.57,-455.06C1585.31,-448.76 1176.84,-428.32 1119.5,-412 1101.14,-406.78 1099.64,-397.94 1081.5,-392 1002.33,-366.05 906.45,-354.99 844.74,-350.32"/>
<polygon fill="midnightblue" stroke="midnightblue" points="844.99,-346.83 834.76,-349.6 844.48,-353.82 844.99,-346.83"/>
</g>
<g id="edge84" class="edge">
<path fill="none" stroke="midnightblue" d="M1734.36,-448.42C1650.22,-420.82 1386.28,-334.23 1290.05,-302.66"/>
<polygon fill="midnightblue" stroke="midnightblue" points="1291.08,-299.32 1280.48,-299.52 1288.89,-305.97 1291.08,-299.32"/>
</g>
<g id="edge61" class="edge">
<path fill="none" stroke="midnightblue" d="M1765.3,-467.57C1774.35,-493.23 1789.1,-569.92 1792.44,-605.93"/>
<polygon fill="midnightblue" stroke="midnightblue" points="1788.95,-606.32 1793.1,-616.08 1795.94,-605.87 1788.95,-606.32"/>
</g>
<g id="edge59" class="edge">
<path fill="none" stroke="midnightblue" d="M1771.77,-448.32C1786.32,-439.62 1811.57,-426.12 1831.85,-416.11"/>
<polygon fill="midnightblue" stroke="midnightblue" points="1833.57,-419.17 1841.04,-411.65 1830.52,-412.87 1833.57,-419.17"/>
</g>
<g id="node34" class="node">
<polygon fill="white" stroke="black" points="1599,-336.5 1599,-355.5 1734,-355.5 1734,-336.5 1599,-336.5"/>
<text text-anchor="middle" x="1666.1" y="-343.5" >codac_ConvexPolygon.h</text>
</g>
<g id="edge62" class="edge">
<path fill="none" stroke="midnightblue" d="M1753.12,-448.37C1737.47,-430.05 1700.72,-387.05 1680.48,-363.36"/>
<polygon fill="midnightblue" stroke="midnightblue" points="1683,-360.92 1673.84,-355.59 1677.68,-365.47 1683,-360.92"/>
</g>
<g id="edge83" class="edge">
<path fill="none" stroke="midnightblue" d="M1760.62,-448.33C1761.25,-434.72 1764.36,-408.26 1778.5,-392 1804.89,-361.66 1826.35,-375.53 1861.5,-356 1905.9,-331.33 1955.5,-341.79 1955.5,-291 1955.5,-291 1955.5,-291 1955.5,-233 1955.5,-200.9 1958.08,-163.61 1959.86,-141.73"/>
<polygon fill="midnightblue" stroke="midnightblue" points="1963.36,-141.81 1960.72,-131.55 1956.39,-141.22 1963.36,-141.81"/>
</g>
<g id="edge60" class="edge">
<path fill="none" stroke="midnightblue" d="M1851.49,-411.52C1836.95,-420.23 1811.43,-433.88 1791.01,-443.96"/>
<polygon fill="midnightblue" stroke="midnightblue" points="1789.22,-440.93 1781.75,-448.44 1792.28,-447.23 1789.22,-440.93"/>
</g>
<g id="edge82" class="edge">
<path fill="none" stroke="midnightblue" d="M1668.66,-336.3C1676.77,-303.56 1705.55,-187.38 1716.88,-141.67"/>
<polygon fill="midnightblue" stroke="midnightblue" points="1720.29,-142.43 1719.3,-131.88 1713.5,-140.75 1720.29,-142.43"/>
</g>
<g id="edge63" class="edge">
<path fill="none" stroke="midnightblue" d="M1642.42,-336.44C1616.96,-327.4 1576.61,-313.06 1548.04,-302.92"/>
<polygon fill="midnightblue" stroke="midnightblue" points="1549.07,-299.57 1538.47,-299.52 1546.72,-306.16 1549.07,-299.57"/>
</g>
<g id="edge81" class="edge">
<path fill="none" stroke="midnightblue" d="M1678.06,-336.3C1722.86,-302.59 1885.26,-180.37 1941.87,-137.77"/>
<polygon fill="midnightblue" stroke="midnightblue" points="1944.13,-140.45 1950.02,-131.64 1939.92,-134.86 1944.13,-140.45"/>
</g>
<g id="edge80" class="edge">
<path fill="none" stroke="midnightblue" d="M1525.34,-280.31C1558.8,-253.47 1660.78,-171.69 1702.95,-137.88"/>
<polygon fill="midnightblue" stroke="midnightblue" points="1705.16,-140.59 1710.77,-131.61 1700.78,-135.13 1705.16,-140.59"/>
</g>
<g id="edge78" class="edge">
<path fill="none" stroke="midnightblue" d="M1484.06,-280.42C1454.36,-271.86 1408,-258 1368.5,-244 1267.26,-208.12 1149.82,-158.55 1096.49,-135.6"/>
<polygon fill="midnightblue" stroke="midnightblue" points="1097.57,-132.25 1087.01,-131.5 1094.8,-138.68 1097.57,-132.25"/>
</g>
<g id="edge79" class="edge">
<path fill="none" stroke="midnightblue" d="M1512.26,-280.11C1509.03,-267.53 1502.78,-243.87 1496.5,-224 1487.22,-194.66 1474.92,-161.1 1467.36,-141"/>
<polygon fill="midnightblue" stroke="midnightblue" points="1470.61,-139.69 1463.79,-131.58 1464.06,-142.17 1470.61,-139.69"/>
</g>
<g id="node36" class="node">
<polygon fill="white" stroke="black" points="1507.5,-168.5 1507.5,-187.5 1617.5,-187.5 1617.5,-168.5 1507.5,-168.5"/>
<text text-anchor="middle" x="1562.1" y="-175.5" >codac_ThickPoint.h</text>
</g>
<g id="edge64" class="edge">
<path fill="none" stroke="midnightblue" d="M1518.27,-280.37C1526.08,-262.46 1544.21,-220.92 1554.67,-196.95"/>
<polygon fill="midnightblue" stroke="midnightblue" points="1557.96,-198.16 1558.75,-187.59 1551.54,-195.36 1557.96,-198.16"/>
</g>
<g id="node40" class="node">
<polygon fill="white" stroke="black" points="1377.5,-224.5 1377.5,-243.5 1487.5,-243.5 1487.5,-224.5 1377.5,-224.5"/>
<text text-anchor="middle" x="1432.1" y="-231.5" >codac_ThickEdge.h</text>
</g>
<g id="edge72" class="edge">
<path fill="none" stroke="midnightblue" d="M1501.33,-280.32C1488.65,-271.98 1469.27,-259.21 1454.29,-249.35"/>
<polygon fill="midnightblue" stroke="midnightblue" points="1455.92,-246.23 1445.64,-243.65 1452.07,-252.08 1455.92,-246.23"/>
</g>
<g id="edge65" class="edge">
<path fill="none" stroke="midnightblue" d="M1587.69,-168.44C1614.91,-159.2 1658.41,-144.43 1688.38,-134.25"/>
<polygon fill="midnightblue" stroke="midnightblue" points="1689.64,-137.52 1697.98,-130.99 1687.38,-130.89 1689.64,-137.52"/>
</g>
<g id="edge69" class="edge">
<path fill="none" stroke="midnightblue" d="M1507.16,-170.96C1417.64,-161.2 1241.05,-141.93 1141.06,-131.02"/>
<polygon fill="midnightblue" stroke="midnightblue" points="1141.36,-127.54 1131.04,-129.93 1140.6,-134.5 1141.36,-127.54"/>
</g>
<g id="edge68" class="edge">
<path fill="none" stroke="midnightblue" d="M1558.56,-168.12C1551.68,-153.74 1536.01,-125.57 1513.5,-112 1477.54,-90.31 1364.64,-77.47 1294.27,-71.36"/>
<polygon fill="midnightblue" stroke="midnightblue" points="1294.47,-67.87 1284.21,-70.51 1293.87,-74.84 1294.47,-67.87"/>
</g>
<g id="edge70" class="edge">
<path fill="none" stroke="midnightblue" d="M1546.11,-168.32C1529.83,-159.7 1504.63,-146.36 1485.78,-136.39"/>
<polygon fill="midnightblue" stroke="midnightblue" points="1487.32,-133.24 1476.85,-131.65 1484.05,-139.43 1487.32,-133.24"/>
</g>
<g id="edge66" class="edge">
<path fill="none" stroke="midnightblue" d="M1617.56,-169.55C1688.96,-159.88 1813.58,-143.02 1891.59,-132.46"/>
<polygon fill="midnightblue" stroke="midnightblue" points="1892.36,-135.89 1901.8,-131.08 1891.42,-128.95 1892.36,-135.89"/>
</g>
<g id="node39" class="node">
<polygon fill="white" stroke="#bfbfbf" points="1561.5,-112.5 1561.5,-131.5 1605.5,-131.5 1605.5,-112.5 1561.5,-112.5"/>
<text text-anchor="middle" x="1583.1" y="-119.5" >limits</text>
</g>
<g id="edge71" class="edge">
<path fill="none" stroke="midnightblue" d="M1565.97,-168.08C1568.81,-160.77 1572.93,-150.18 1576.46,-141.1"/>
<polygon fill="midnightblue" stroke="midnightblue" points="1579.73,-142.34 1580.1,-131.75 1573.21,-139.8 1579.73,-142.34"/>
</g>
<g id="node38" class="node">
<polygon fill="white" stroke="#bfbfbf" points="1906,-56.5 1906,-75.5 2017,-75.5 2017,-56.5 1906,-56.5"/>
<text text-anchor="middle" x="1961.1" y="-63.5" >ibex_BoolInterval.h</text>
</g>
<g id="edge67" class="edge">
<path fill="none" stroke="midnightblue" d="M1961.5,-112.08C1961.5,-105.01 1961.5,-94.86 1961.5,-85.99"/>
<polygon fill="midnightblue" stroke="midnightblue" points="1965,-85.75 1961.5,-75.75 1958,-85.75 1965,-85.75"/>
</g>
<g id="edge77" class="edge">
<path fill="none" stroke="midnightblue" d="M1416.44,-224.38C1390.17,-210.62 1336.08,-183.65 1287.5,-168 1238.27,-152.14 1180.98,-140.64 1137.21,-133.23"/>
<polygon fill="midnightblue" stroke="midnightblue" points="1137.67,-129.76 1127.24,-131.57 1136.53,-136.66 1137.67,-129.76"/>
</g>
<g id="edge74" class="edge">
<path fill="none" stroke="midnightblue" d="M1429.91,-224.29C1422.91,-202.24 1401.57,-143.76 1363.5,-112 1343.8,-95.56 1317.68,-84.96 1294.18,-78.21"/>
<polygon fill="midnightblue" stroke="midnightblue" points="1294.87,-74.77 1284.3,-75.55 1293.04,-81.53 1294.87,-74.77"/>
</g>
<g id="edge76" class="edge">
<path fill="none" stroke="midnightblue" d="M1434.7,-224.37C1439.22,-206.62 1449.64,-165.67 1455.77,-141.6"/>
<polygon fill="midnightblue" stroke="midnightblue" points="1459.24,-142.15 1458.31,-131.59 1452.45,-140.42 1459.24,-142.15"/>
</g>
<g id="edge73" class="edge">
<path fill="none" stroke="midnightblue" d="M1453.1,-224.44C1474.49,-215.56 1508.18,-201.56 1532.52,-191.45"/>
<polygon fill="midnightblue" stroke="midnightblue" points="1534.11,-194.58 1542,-187.52 1531.42,-188.12 1534.11,-194.58"/>
</g>
<g id="edge75" class="edge">
<path fill="none" stroke="midnightblue" d="M1473.57,-224.46C1569.07,-204.6 1805.88,-155.36 1910.46,-133.61"/>
<polygon fill="midnightblue" stroke="midnightblue" points="1911.38,-137 1920.46,-131.53 1909.95,-130.14 1911.38,-137"/>
</g>
<g id="node42" class="node">
<polygon fill="white" stroke="#bfbfbf" points="2184,-504.5 2184,-523.5 2239,-523.5 2239,-504.5 2184,-504.5"/>
<text text-anchor="middle" x="2211.1" y="-511.5" >fstream</text>
</g>
<g id="edge91" class="edge">
<path fill="none" stroke="midnightblue" d="M2211.5,-560.08C2211.5,-553.01 2211.5,-542.86 2211.5,-533.99"/>
<polygon fill="midnightblue" stroke="midnightblue" points="2215,-533.75 2211.5,-523.75 2208,-533.75 2215,-533.75"/>
</g>
<g id="edge94" class="edge">
<path fill="none" stroke="midnightblue" d="M1660.08,-560.35C1652.97,-532.99 1634.8,-446.94 1670.5,-392 1689.99,-362 1723.69,-386.43 1742.5,-356 1747.17,-348.44 1742.94,-344.88 1742.5,-336 1738.96,-264 1728.72,-178.8 1723.98,-141.76"/>
<polygon fill="midnightblue" stroke="midnightblue" points="1727.4,-140.97 1722.64,-131.5 1720.46,-141.87 1727.4,-140.97"/>
</g>
<g id="edge97" class="edge">
<path fill="none" stroke="midnightblue" d="M1665.46,-560.35C1672.41,-540.29 1690.62,-489.17 1709.5,-448 1728.81,-405.89 1747.28,-400.95 1758.5,-356 1778.11,-277.47 1966.32,-338.97 1753.5,-112 1737.98,-95.45 1427.33,-77.14 1294.7,-70.04"/>
<polygon fill="midnightblue" stroke="midnightblue" points="1294.5,-66.53 1284.32,-69.49 1294.12,-73.52 1294.5,-66.53"/>
</g>
<g id="edge99" class="edge">
<path fill="none" stroke="midnightblue" d="M1570.16,-567.51C1384.85,-563.93 980.51,-552.88 924.5,-524 855.18,-488.25 807.72,-402.36 789.64,-364.94"/>
<polygon fill="midnightblue" stroke="midnightblue" points="792.75,-363.31 785.33,-355.75 786.41,-366.29 792.75,-363.31"/>
</g>
<g id="edge95" class="edge">
<path fill="none" stroke="midnightblue" d="M1570.44,-564.46C1375.44,-553.6 938.5,-522.21 938.5,-459 938.5,-459 938.5,-459 938.5,-401 938.5,-370.2 932.03,-361.32 914.5,-336 906.32,-324.19 894.35,-313.54 883.95,-305.57"/>
<polygon fill="midnightblue" stroke="midnightblue" points="885.84,-302.62 875.7,-299.54 881.71,-308.27 885.84,-302.62"/>
</g>
<g id="edge98" class="edge">
<path fill="none" stroke="midnightblue" d="M1687.92,-579.52C1710.87,-588.31 1744.14,-602.13 1766.83,-612.23"/>
<polygon fill="midnightblue" stroke="midnightblue" points="1765.59,-615.51 1776.15,-616.44 1768.48,-609.13 1765.59,-615.51"/>
</g>
<g id="node44" class="node">
<polygon fill="white" stroke="#bfbfbf" points="1712.5,-504.5 1712.5,-523.5 1754.5,-523.5 1754.5,-504.5 1712.5,-504.5"/>
<text text-anchor="middle" x="1733.1" y="-511.5" >array</text>
</g>
<g id="edge96" class="edge">
<path fill="none" stroke="midnightblue" d="M1673.91,-560.32C1684.61,-552.18 1700.84,-539.84 1713.66,-530.09"/>
<polygon fill="midnightblue" stroke="midnightblue" points="1716.04,-532.67 1721.89,-523.83 1711.81,-527.1 1716.04,-532.67"/>
</g>
<g id="node45" class="node">
<polygon fill="white" stroke="black" points="1480.5,-504.5 1480.5,-523.5 1604.5,-523.5 1604.5,-504.5 1480.5,-504.5"/>
<text text-anchor="middle" x="1542.1" y="-511.5" >codac_VIBesFigTube.h</text>
</g>
<g id="edge100" class="edge">
<path fill="none" stroke="midnightblue" d="M1643.49,-560.44C1623.91,-551.64 1593.19,-537.81 1570.77,-527.72"/>
<polygon fill="midnightblue" stroke="midnightblue" points="1571.98,-524.43 1561.43,-523.52 1569.11,-530.81 1571.98,-524.43"/>
</g>
<g id="edge118" class="edge">
<path fill="none" stroke="midnightblue" d="M1480.21,-506.04C1372.41,-493.17 1144.63,-462.26 957.5,-412 904.39,-397.74 844.78,-374.01 810.35,-359.51"/>
<polygon fill="midnightblue" stroke="midnightblue" points="811.49,-356.2 800.91,-355.51 808.75,-362.64 811.49,-356.2"/>
</g>
<g id="edge117" class="edge">
<path fill="none" stroke="midnightblue" d="M1542.36,-523.62C1542.64,-537.62 1545.35,-565.26 1561.5,-580 1587.14,-603.4 1680.78,-615.6 1740.38,-621.13"/>
<polygon fill="midnightblue" stroke="midnightblue" points="1740.09,-624.62 1750.36,-622.03 1740.71,-617.65 1740.09,-624.62"/>
</g>
<g id="edge116" class="edge">
<path fill="none" stroke="midnightblue" d="M1577.04,-504.44C1614.75,-495.1 1675.24,-480.12 1716.36,-469.93"/>
<polygon fill="midnightblue" stroke="midnightblue" points="1717.25,-473.32 1726.12,-467.52 1715.57,-466.52 1717.25,-473.32"/>
</g>
<g id="node46" class="node">
<polygon fill="white" stroke="red" points="1444,-448.5 1444,-467.5 1545,-467.5 1545,-448.5 1444,-448.5"/>
<text text-anchor="middle" x="1494.1" y="-455.5" >codac_VIBesFig.h</text>
</g>
<g id="edge101" class="edge">
<path fill="none" stroke="midnightblue" d="M1534.57,-504.08C1527.65,-496.3 1517.43,-484.8 1509.05,-475.37"/>
<polygon fill="midnightblue" stroke="midnightblue" points="1511.54,-472.9 1502.28,-467.75 1506.31,-477.55 1511.54,-472.9"/>
</g>
<g id="edge114" class="edge">
<path fill="none" stroke="midnightblue" d="M1488.85,-448.49C1456.27,-399.44 1292.33,-152.58 1247.08,-84.44"/>
<polygon fill="midnightblue" stroke="midnightblue" points="1249.75,-82.13 1241.3,-75.73 1243.92,-86 1249.75,-82.13"/>
</g>
<g id="edge108" class="edge">
<path fill="none" stroke="midnightblue" d="M1514.45,-448.46C1533.12,-440.14 1561.51,-426.64 1584.5,-412 1608.25,-396.88 1633.3,-376.24 1649.37,-362.31"/>
<polygon fill="midnightblue" stroke="midnightblue" points="1651.69,-364.93 1656.9,-355.7 1647.07,-359.67 1651.69,-364.93"/>
</g>
<g id="edge115" class="edge">
<path fill="none" stroke="midnightblue" d="M1495.58,-448.08C1498.72,-421.95 1507.97,-345.21 1512.26,-309.58"/>
<polygon fill="midnightblue" stroke="midnightblue" points="1515.75,-309.92 1513.47,-299.57 1508.8,-309.08 1515.75,-309.92"/>
</g>
<g id="edge113" class="edge">
<path fill="none" stroke="midnightblue" d="M1500.62,-448.36C1516.4,-425.5 1558.17,-361.04 1572.5,-300 1580.86,-264.39 1573.29,-221.46 1567.55,-197.5"/>
<polygon fill="midnightblue" stroke="midnightblue" points="1570.9,-196.46 1565.03,-187.64 1564.11,-198.2 1570.9,-196.46"/>
</g>
<g id="node47" class="node">
<polygon fill="white" stroke="black" points="1129,-392.5 1129,-411.5 1218,-411.5 1218,-392.5 1129,-392.5"/>
<text text-anchor="middle" x="1173.1" y="-399.5" >codac_Figure.h</text>
</g>
<g id="edge102" class="edge">
<path fill="none" stroke="midnightblue" d="M1443.99,-448.5C1385.24,-438.62 1288.61,-422.36 1228.14,-412.19"/>
<polygon fill="midnightblue" stroke="midnightblue" points="1228.47,-408.7 1218.03,-410.49 1227.31,-415.6 1228.47,-408.7"/>
</g>
<g id="node48" class="node">
<polygon fill="white" stroke="red" points="966.5,-392.5 966.5,-411.5 1072.5,-411.5 1072.5,-392.5 966.5,-392.5"/>
<text text-anchor="middle" x="1019.1" y="-399.5" >codac_ColorMap.h</text>
</g>
<g id="edge106" class="edge">
<path fill="none" stroke="midnightblue" d="M1443.89,-451.81C1366.73,-443.8 1215.06,-427.72 1086.5,-412 1085.22,-411.84 1083.93,-411.68 1082.63,-411.52"/>
<polygon fill="midnightblue" stroke="midnightblue" points="1082.88,-408.03 1072.52,-410.24 1082,-414.97 1082.88,-408.03"/>
</g>
<g id="node49" class="node">
<polygon fill="white" stroke="black" points="1274.5,-392.5 1274.5,-411.5 1428.5,-411.5 1428.5,-392.5 1274.5,-392.5"/>
<text text-anchor="middle" x="1351.1" y="-399.5" >codac_polygon_arithmetic.h</text>
</g>
<g id="edge109" class="edge">
<path fill="none" stroke="midnightblue" d="M1471.84,-448.44C1448.1,-439.48 1410.59,-425.31 1383.76,-415.18"/>
<polygon fill="midnightblue" stroke="midnightblue" points="1384.64,-411.77 1374.05,-411.52 1382.17,-418.32 1384.64,-411.77"/>
</g>
<g id="edge105" class="edge">
<path fill="none" stroke="midnightblue" d="M1148.52,-392.47C1111.27,-377.97 1045.5,-344.77 1045.5,-291 1045.5,-291 1045.5,-291 1045.5,-233 1045.5,-200.33 1054.95,-163.24 1061.46,-141.55"/>
<polygon fill="midnightblue" stroke="midnightblue" points="1064.89,-142.31 1064.53,-131.72 1058.21,-140.22 1064.89,-142.31"/>
</g>
<g id="edge103" class="edge">
<path fill="none" stroke="midnightblue" d="M1171.67,-392.49C1167.87,-374.07 1159.5,-329.12 1159.5,-291 1159.5,-291 1159.5,-291 1159.5,-177 1159.5,-137.28 1193.46,-101.5 1215.98,-82.15"/>
<polygon fill="midnightblue" stroke="midnightblue" points="1218.48,-84.63 1223.96,-75.57 1214.02,-79.24 1218.48,-84.63"/>
</g>
<g id="edge104" class="edge">
<path fill="none" stroke="midnightblue" d="M1144.5,-392.44C1111.35,-382.66 1057.22,-366.69 1022.76,-356.52"/>
<polygon fill="midnightblue" stroke="midnightblue" points="1023.32,-353.04 1012.74,-353.56 1021.34,-359.75 1023.32,-353.04"/>
</g>
<g id="edge107" class="edge">
<path fill="none" stroke="midnightblue" d="M981.79,-392.44C940.36,-383.04 873.74,-367.93 828.83,-357.74"/>
<polygon fill="midnightblue" stroke="midnightblue" points="829.56,-354.32 819.04,-355.52 828.01,-361.14 829.56,-354.32"/>
</g>
<g id="edge112" class="edge">
<path fill="none" stroke="midnightblue" d="M1274.27,-395.46C1207.46,-385.96 1121.5,-360.27 1121.5,-291 1121.5,-291 1121.5,-291 1121.5,-233 1121.5,-196.86 1097.73,-160.25 1081.73,-139.71"/>
<polygon fill="midnightblue" stroke="midnightblue" points="1084.25,-137.26 1075.24,-131.69 1078.81,-141.67 1084.25,-137.26"/>
</g>
<g id="edge111" class="edge">
<path fill="none" stroke="midnightblue" d="M1290.76,-392.47C1241.04,-384.85 1169.12,-372.37 1107.5,-356 1008.74,-329.77 990.02,-303.19 890.5,-280 790,-262 690,-252.5 595,-242.4"/>
<polygon fill="midnightblue" stroke="midnightblue" points="595.43,-238.93 584.6,-241.1 594.57,-245.87 595.43,-238.93"/>
</g>
<g id="edge110" class="edge">
<path fill="none" stroke="midnightblue" d="M1401.41,-392.44C1457.17,-382.89 1547.39,-367.42 1606.83,-357.23"/>
<polygon fill="midnightblue" stroke="midnightblue" points="1607.56,-360.66 1616.82,-355.52 1606.37,-353.76 1607.56,-360.66"/>
</g>
</g>
</svg>

</body></html>
